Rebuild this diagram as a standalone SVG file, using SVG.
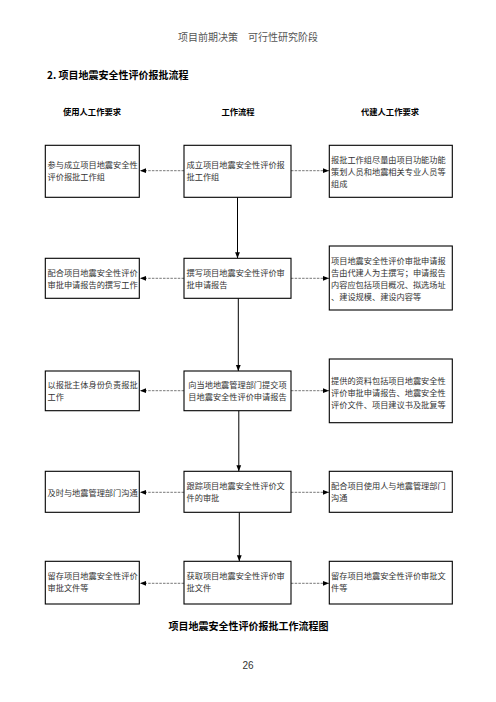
<svg xmlns="http://www.w3.org/2000/svg" width="496" height="702" viewBox="0 0 496 702">
<defs>
<style>
text{font-family:"Noto Sans CJK SC","Noto Sans",sans-serif;}
.hdr{font-size:10px;fill:#555;}
.ttl{font-size:10px;font-weight:bold;fill:#000;}
.col{font-size:8.3px;font-weight:bold;fill:#000;}
.t{font-size:8.2px;fill:#333;}
.box{fill:#fff;stroke:#000;stroke-width:1.1;}
.dash{stroke:#555;stroke-width:0.8;stroke-dasharray:2.5,1.2;fill:none;}
.solid{stroke:#000;stroke-width:1;fill:none;}
</style>
<marker id="ah" viewBox="0 0 10 10" refX="10" refY="5" markerWidth="6" markerHeight="6" markerUnits="userSpaceOnUse" orient="auto">
<path d="M0,1 L10,5 L0,9 Z" fill="#000"/>
</marker>
</defs>
<rect width="496" height="702" fill="#fff"/>
<text class="hdr" x="248" y="41" text-anchor="middle">项目前期决策　可行性研究阶段</text>
<text class="ttl" x="47" y="79">2. 项目地震安全性评价报批流程</text>
<text class="col" x="92" y="115" text-anchor="middle">使用人工作要求</text>
<text class="col" x="238" y="115" text-anchor="middle">工作流程</text>
<text class="col" x="390" y="115" text-anchor="middle">代建人工作要求</text>

<g id="connectors">
<line class="dash" x1="184" y1="170.7" x2="140" y2="170.7" marker-end="url(#ah)"/>
<line class="dash" x1="291" y1="170.7" x2="329" y2="170.7" marker-end="url(#ah)"/>
<line class="dash" x1="184" y1="278.3" x2="140" y2="278.3" marker-end="url(#ah)"/>
<line class="dash" x1="291" y1="278.3" x2="329" y2="278.3" marker-end="url(#ah)"/>
<line class="dash" x1="184" y1="390.7" x2="140" y2="390.7" marker-end="url(#ah)"/>
<line class="dash" x1="291" y1="390.7" x2="329" y2="390.7" marker-end="url(#ah)"/>
<line class="dash" x1="184" y1="492.3" x2="140" y2="492.3" marker-end="url(#ah)"/>
<line class="dash" x1="291" y1="492.3" x2="329" y2="492.3" marker-end="url(#ah)"/>
<line class="dash" x1="184" y1="583.3" x2="140" y2="583.3" marker-end="url(#ah)"/>
<line class="dash" x1="291" y1="583.3" x2="329" y2="583.3" marker-end="url(#ah)"/>
<line class="solid" x1="237.5" y1="197.3" x2="237.5" y2="258.3" marker-end="url(#ah)"/>
<line class="solid" x1="238.3" y1="298.3" x2="238.3" y2="371" marker-end="url(#ah)"/>
<line class="solid" x1="238.8" y1="410.7" x2="238.8" y2="471.3" marker-end="url(#ah)"/>
<line class="solid" x1="239.3" y1="512.3" x2="239.3" y2="561.3" marker-end="url(#ah)"/>
</g>

<g id="n1l"><rect class="box" x="45.3" y="145.3" width="94" height="52"/>
<text class="t" x="47.5" y="168">参与成立项目地震安全性<tspan x="47.5" dy="12">评价报批工作组</tspan></text></g>
<g id="n1m"><rect class="box" x="184" y="145.3" width="107" height="52"/>
<text class="t" x="186.5" y="168">成立项目地震安全性评价报<tspan x="186.5" dy="12">批工作组</tspan></text></g>
<g id="n1r"><rect class="box" x="329.3" y="145.3" width="123" height="52"/>
<text class="t" x="331" y="163">报批工作组尽量由项目功能功能<tspan x="331" dy="12">策划人员和地震相关专业人员等</tspan><tspan x="331" dy="12">组成</tspan></text></g>

<g id="n2l"><rect class="box" x="45.3" y="258.3" width="94" height="40"/>
<text class="t" x="47.5" y="275.5">配合项目地震安全性评价<tspan x="47.5" dy="12">审批申请报告的撰写工作</tspan></text></g>
<g id="n2m"><rect class="box" x="184" y="258.3" width="107" height="40"/>
<text class="t" x="186.5" y="275.5">撰写项目地震安全性评价审<tspan x="186.5" dy="12">批申请报告</tspan></text></g>
<g id="n2r"><rect class="box" x="329.3" y="246" width="123" height="64"/>
<text class="t" x="331" y="264">项目地震安全性评价审批申请报<tspan x="331" dy="12">告由代建人为主撰写；申请报告</tspan><tspan x="331" dy="12">内容应包括项目概况、拟选场址</tspan><tspan x="331" dy="12">、建设规模、建设内容等</tspan></text></g>

<g id="n3l"><rect class="box" x="45.3" y="371" width="94" height="39.7"/>
<text class="t" x="47.5" y="388">以报批主体身份负责报批<tspan x="47.5" dy="12">工作</tspan></text></g>
<g id="n3m"><rect class="box" x="184" y="371" width="107" height="39.7"/>
<text class="t" x="237.5" y="388" text-anchor="middle">向当地地震管理部门提交项<tspan x="237.5" dy="12">目地震安全性评价申请报告</tspan></text></g>
<g id="n3r"><rect class="box" x="329.3" y="359" width="123" height="63.7"/>
<text class="t" x="331" y="384">提供的资料包括项目地震安全性<tspan x="331" dy="12">评价审批申请报告、地震安全性</tspan><tspan x="331" dy="12">评价文件、项目建议书及批复等</tspan></text></g>

<g id="n4l"><rect class="box" x="45.3" y="471.3" width="94" height="41"/>
<text class="t" x="47.5" y="496">及时与地震管理部门沟通</text></g>
<g id="n4m"><rect class="box" x="184" y="471.3" width="107" height="41"/>
<text class="t" x="186.5" y="489">跟踪项目地震安全性评价文<tspan x="186.5" dy="12">件的审批</tspan></text></g>
<g id="n4r"><rect class="box" x="329.3" y="471.3" width="123" height="41"/>
<text class="t" x="331" y="489">配合项目使用人与地震管理部门<tspan x="331" dy="12">沟通</tspan></text></g>

<g id="n5l"><rect class="box" x="45.3" y="561.3" width="94" height="42.7"/>
<text class="t" x="47.5" y="579">留存项目地震安全性评价<tspan x="47.5" dy="12">审批文件等</tspan></text></g>
<g id="n5m"><rect class="box" x="184" y="561.3" width="107" height="42.7"/>
<text class="t" x="186.5" y="579">获取项目地震安全性评价审<tspan x="186.5" dy="12">批文件</tspan></text></g>
<g id="n5r"><rect class="box" x="329.3" y="561.3" width="123" height="42.7"/>
<text class="t" x="331" y="579">留存项目地震安全性评价审批文<tspan x="331" dy="12">件等</tspan></text></g>

<text class="ttl" x="248.5" y="629.5" text-anchor="middle">项目地震安全性评价报批工作流程图</text>
<text class="hdr" x="248" y="668.5" text-anchor="middle" style="font-family:'Liberation Sans',sans-serif;fill:#333">26</text>
</svg>
